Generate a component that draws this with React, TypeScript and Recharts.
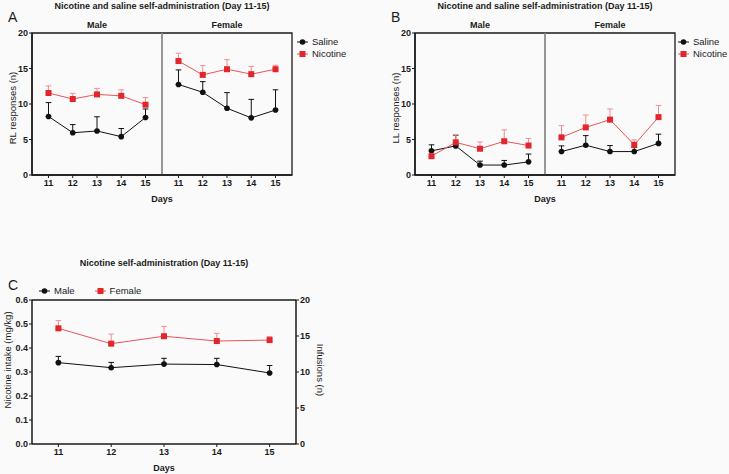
import React from 'react';
import {
  LineChart,
  Line,
  XAxis,
  YAxis,
  ErrorBar,
  ReferenceLine,
  ReferenceArea,
  Legend,
} from 'recharts';

const FONT = '"Liberation Sans", Arial, Helvetica, sans-serif';
const RED = '#e2262b';
const RED_LINE = '#e8555a';
const RED_ERR = '#ee8f92';
const BLACK = '#111111';
const AXIS = '#1a1a1a';

const days = [11, 12, 13, 14, 15];

// A: RL responses, mean and upper SEM
const rlSalineMale = [8.25, 5.95, 6.2, 5.4, 8.1];
const rlSalineMaleSem = [1.95, 1.15, 2.0, 1.15, 1.2];
const rlNicotineMale = [11.55, 10.7, 11.35, 11.15, 9.9];
const rlNicotineMaleSem = [1.0, 0.8, 0.85, 0.85, 1.0];
const rlSalineFemale = [12.75, 11.65, 9.4, 8.05, 9.15];
const rlSalineFemaleSem = [2.05, 1.5, 2.2, 2.6, 2.85];
const rlNicotineFemale = [16.05, 14.1, 14.9, 14.2, 14.9];
const rlNicotineFemaleSem = [1.1, 1.3, 1.35, 1.1, 0.55];

// B: LL responses
const llSalineMale = [3.4, 4.1, 1.4, 1.4, 1.85];
const llSalineMaleSem = [0.85, 1.5, 0.55, 0.65, 1.1];
const llNicotineMale = [2.65, 4.6, 3.7, 4.75, 4.15];
const llNicotineMaleSem = [0.9, 1.05, 0.95, 1.6, 1.0];
const llSalineFemale = [3.3, 4.2, 3.3, 3.3, 4.45];
const llSalineFemaleSem = [0.8, 1.35, 0.85, 0.6, 1.3];
const llNicotineFemale = [5.3, 6.7, 7.8, 4.25, 8.15];
const llNicotineFemaleSem = [1.65, 1.75, 1.5, 0.7, 1.65];

// C: nicotine intake (mg/kg)
const intakeMale = [0.339, 0.318, 0.333, 0.331, 0.296];
const intakeMaleSem = [0.026, 0.022, 0.024, 0.026, 0.031];
const intakeFemale = [0.482, 0.418, 0.449, 0.429, 0.433];
const intakeFemaleSem = [0.032, 0.04, 0.041, 0.032, 0.015];

const responseTicks = [0, 5, 10, 15, 20];
const intakeTicks = [0, 0.1, 0.2, 0.3, 0.4, 0.5, 0.6];
const infusionTicks = [0, 5, 10, 15, 20];

// each sex gets half of the x range; points sit OFFSET into their half
const HALF = 5.36;
const OFFSET = 0.68;

function buildResponseRows(
  sM: number[], sMe: number[], nM: number[], nMe: number[],
  sF: number[], sFe: number[], nF: number[], nFe: number[],
) {
  const male = days.map((d, i) => ({
    x: OFFSET + i, day: d,
    saline: sM[i], salineErr: [0, sMe[i]],
    nicotine: nM[i], nicotineErr: [0, nMe[i]],
  }));
  const gap = { x: HALF, day: null, saline: null, nicotine: null };
  const female = days.map((d, i) => ({
    x: HALF + OFFSET + i, day: d,
    saline: sF[i], salineErr: [0, sFe[i]],
    nicotine: nF[i], nicotineErr: [0, nFe[i]],
  }));
  return [...male, gap, ...female];
}

const rlRows = buildResponseRows(
  rlSalineMale, rlSalineMaleSem, rlNicotineMale, rlNicotineMaleSem,
  rlSalineFemale, rlSalineFemaleSem, rlNicotineFemale, rlNicotineFemaleSem,
);
const llRows = buildResponseRows(
  llSalineMale, llSalineMaleSem, llNicotineMale, llNicotineMaleSem,
  llSalineFemale, llSalineFemaleSem, llNicotineFemale, llNicotineFemaleSem,
);
const intakeRows = days.map((d, i) => ({
  day: d,
  male: intakeMale[i], maleErr: [0, intakeMaleSem[i]],
  female: intakeFemale[i], femaleErr: [0, intakeFemaleSem[i]],
}));

const xPositions = [
  ...days.map((_, i) => OFFSET + i),
  ...days.map((_, i) => HALF + OFFSET + i),
];

const tickStyle = { fontSize: 9, fontWeight: 700, fill: AXIS, fontFamily: FONT };

const squareDot = (color: string) => (props: any) => {
  const { cx, cy, index } = props;
  if (cx == null || cy == null || isNaN(cy)) return <g key={`sq-${index}`} />;
  return <rect key={`sq-${index}`} x={cx - 3} y={cy - 3} width={6} height={6} fill={color} />;
};

const circleDot = (props: any) => {
  const { cx, cy, index } = props;
  if (cx == null || cy == null || isNaN(cy)) return <g key={`ci-${index}`} />;
  return <circle key={`ci-${index}`} cx={cx} cy={cy} r={2.8} fill={BLACK} />;
};

const verticalLabel = (text: string, x: number, angle: number, shift = 0) => (props: any) => {
  const vb = props.viewBox;
  const y = vb.y + vb.height / 2 + shift;
  return (
    <text
      x={x}
      y={y}
      transform={`rotate(${angle} ${x} ${y})`}
      textAnchor="middle"
      dominantBaseline="central"
      fontSize={9.5}
      fontFamily={FONT}
      fill={AXIS}
    >
      {text}
    </text>
  );
};

interface KeyItem {
  label: string;
  color: string;
  shape: 'circle' | 'square';
}

const SeriesKey = ({ items, row }: { items: KeyItem[]; row?: boolean }) => (
  <div style={{ display: 'flex', flexDirection: row ? 'row' : 'column', gap: row ? 20 : 2 }}>
    {items.map((it) => (
      <div
        key={it.label}
        style={{ display: 'flex', alignItems: 'center', fontSize: 9.5, fontFamily: FONT, color: AXIS, lineHeight: '10px' }}
      >
        <svg width={11} height={10}>
          <line x1={0} y1={5} x2={11} y2={5} stroke={it.shape === 'square' ? RED_LINE : BLACK} strokeWidth={1} />
          {it.shape === 'square'
            ? <rect x={2.5} y={2} width={6} height={6} fill={it.color} />
            : <circle cx={5.5} cy={5} r={2.8} fill={it.color} />}
        </svg>
        <span style={{ marginLeft: 4 }}>{it.label}</span>
      </div>
    ))}
  </div>
);

const responseKey: KeyItem[] = [
  { label: 'Saline', color: BLACK, shape: 'circle' },
  { label: 'Nicotine', color: RED, shape: 'square' },
];
const sexKey: KeyItem[] = [
  { label: 'Male', color: BLACK, shape: 'circle' },
  { label: 'Female', color: RED, shape: 'square' },
];

const textBase: React.CSSProperties = {
  position: 'absolute',
  fontFamily: FONT,
  color: AXIS,
  whiteSpace: 'nowrap',
};

function ResponsePanel({ left, letter, yLabel, data, keyLeft }: { left: number; letter: string; yLabel: string; data: any[]; keyLeft: number }) {
  return (
    <div style={{ position: 'absolute', left, top: 0, width: 346, height: 210 }}>
      <div style={{ ...textBase, left: 32, width: 260, top: 0, textAlign: 'center', fontSize: 9, fontWeight: 700, lineHeight: '13px' }}>
        Nicotine and saline self-administration (Day 11-15)
      </div>
      <div style={{ ...textBase, left: 8, top: 10, fontSize: 14, lineHeight: '14px' }}>{letter}</div>
      <div style={{ ...textBase, left: 32, width: 130, top: 19, textAlign: 'center', fontSize: 9, fontWeight: 700, lineHeight: '12px' }}>Male</div>
      <div style={{ ...textBase, left: 162, width: 130, top: 19, textAlign: 'center', fontSize: 9, fontWeight: 700, lineHeight: '12px' }}>Female</div>
      <LineChart width={346} height={210} data={data} margin={{ top: 33, right: 54, bottom: 0, left: 0 }}>
        <XAxis
          type="number"
          dataKey="x"
          domain={[0, 2 * HALF]}
          ticks={xPositions}
          interval={0}
          tickFormatter={(v: number) => String(days[Math.round(v - OFFSET) % 5])}
          tick={tickStyle}
          tickSize={3}
          tickMargin={2}
          height={35}
          axisLine={{ stroke: AXIS, strokeWidth: 1.5 }}
          tickLine={{ stroke: AXIS, strokeWidth: 1 }}
          label={{ value: 'Days', position: 'insideBottom', offset: 8, style: { fontSize: 9, fontWeight: 700, fill: AXIS, fontFamily: FONT } }}
        />
        <YAxis
          domain={[0, 20]}
          ticks={responseTicks}
          interval={0}
          width={32}
          tick={tickStyle}
          tickSize={3}
          tickMargin={1}
          axisLine={{ stroke: AXIS, strokeWidth: 1.5 }}
          tickLine={{ stroke: AXIS, strokeWidth: 1 }}
          label={verticalLabel(yLabel, 12, -90, 4)}
        />
        <ReferenceArea x1={0} x2={2 * HALF} y1={0} y2={20} fill="none" stroke={AXIS} strokeWidth={1.3} />
        <ReferenceLine x={HALF} stroke="#8c8c8c" strokeWidth={1.8} />
        <Line
          dataKey="saline"
          type="linear"
          stroke={BLACK}
          strokeWidth={1}
          dot={circleDot}
          activeDot={false}
          isAnimationActive={false}
        >
          <ErrorBar dataKey="salineErr" direction="y" width={2.8} stroke={BLACK} strokeWidth={1} />
        </Line>
        <Line
          dataKey="nicotine"
          type="linear"
          stroke={RED_LINE}
          strokeWidth={1}
          dot={squareDot(RED)}
          activeDot={false}
          isAnimationActive={false}
        >
          <ErrorBar dataKey="nicotineErr" direction="y" width={2.8} stroke={RED_ERR} strokeWidth={1} />
        </Line>
        <Legend
          layout="vertical"
          align="center"
          verticalAlign="middle"
          wrapperStyle={{ left: keyLeft, top: 37 }}
          content={() => <SeriesKey items={responseKey} />}
        />
      </LineChart>
    </div>
  );
}

function IntakePanel() {
  return (
    <div style={{ position: 'absolute', left: 0, top: 220, width: 360, height: 254 }}>
      <div style={{ ...textBase, left: 32, width: 264, top: 37, textAlign: 'center', fontSize: 9, fontWeight: 700, lineHeight: '13px' }}>
        Nicotine self-administration (Day 11-15)
      </div>
      <div style={{ ...textBase, left: 8, top: 58, fontSize: 14, lineHeight: '14px' }}>C</div>
      <LineChart width={360} height={254} data={intakeRows} margin={{ top: 80, right: 24, bottom: 0, left: 0 }}>
        <XAxis
          type="number"
          dataKey="day"
          domain={[10.5, 15.5]}
          ticks={days}
          interval={0}
          tick={tickStyle}
          tickSize={3}
          tickMargin={2}
          height={30}
          axisLine={{ stroke: AXIS, strokeWidth: 1.5 }}
          tickLine={{ stroke: AXIS, strokeWidth: 1 }}
          label={{ value: 'Days', position: 'insideBottom', offset: 3, style: { fontSize: 9, fontWeight: 700, fill: AXIS, fontFamily: FONT } }}
        />
        <YAxis
          yAxisId="intake"
          domain={[0, 0.6]}
          ticks={intakeTicks}
          interval={0}
          width={32}
          tick={tickStyle}
          tickFormatter={(v: number) => v.toFixed(1)}
          tickSize={3}
          tickMargin={1}
          axisLine={{ stroke: AXIS, strokeWidth: 1.5 }}
          tickLine={{ stroke: AXIS, strokeWidth: 1 }}
          label={verticalLabel('Nicotine intake (mg/kg)', 7, -90, -12)}
        />
        <YAxis
          yAxisId="infusions"
          orientation="right"
          type="number"
          domain={[0, 20]}
          allowDataOverflow
          ticks={infusionTicks}
          interval={0}
          width={40}
          tick={{ ...tickStyle, textAnchor: 'start' }}
          tickSize={3}
          tickMargin={1}
          axisLine={{ stroke: AXIS, strokeWidth: 1.5 }}
          tickLine={{ stroke: AXIS, strokeWidth: 1 }}
          label={verticalLabel('Infusions (n)', 320, 90, -2)}
        />
        {/* top frame edge; also gives the right axis a reference to scale against */}
        <ReferenceLine yAxisId="infusions" y={20} ifOverflow="extendDomain" stroke={AXIS} strokeWidth={1.5} />
        <ReferenceLine yAxisId="infusions" y={0} ifOverflow="extendDomain" stroke="none" />
        <Line
          yAxisId="intake"
          dataKey="male"
          type="linear"
          stroke={BLACK}
          strokeWidth={1}
          dot={circleDot}
          activeDot={false}
          isAnimationActive={false}
        >
          <ErrorBar dataKey="maleErr" direction="y" width={2.8} stroke={BLACK} strokeWidth={1} />
        </Line>
        <Line
          yAxisId="intake"
          dataKey="female"
          type="linear"
          stroke={RED_LINE}
          strokeWidth={1}
          dot={squareDot(RED)}
          activeDot={false}
          isAnimationActive={false}
        >
          <ErrorBar dataKey="femaleErr" direction="y" width={2.8} stroke={RED_ERR} strokeWidth={1} />
        </Line>
        <Legend
          layout="vertical"
          align="center"
          verticalAlign="middle"
          wrapperStyle={{ left: 39, top: 66 }}
          content={() => <SeriesKey items={sexKey} row />}
        />
      </LineChart>
    </div>
  );
}

export default function App() {
  return (
    <div
      style={{
        position: 'absolute',
        left: 0,
        top: 0,
        width: 729,
        height: 474,
        background: '#fafafa',
        overflow: 'hidden',
      }}
    >
      <ResponsePanel left={0} letter="A" yLabel="RL responses (n)" data={rlRows} keyLeft={297} />
      <ResponsePanel left={383} letter="B" yLabel="LL responses (n)" data={llRows} keyLeft={295} />
      <IntakePanel />
    </div>
  );
}
